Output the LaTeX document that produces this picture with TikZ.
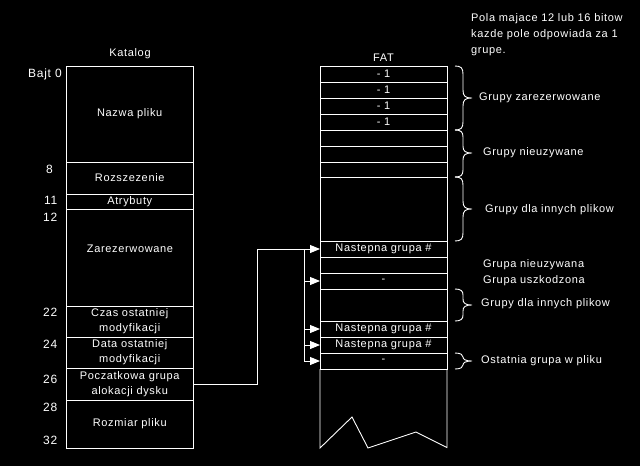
\documentclass[tikz,border=0pt]{standalone}
\usepackage{fontspec}
\setmainfont{Liberation Sans}[LetterSpace=6.0]
\usetikzlibrary{arrows.meta}
\newcommand\fatbrace[4]{%
  \draw[brc] (455,#1) .. controls (461,#1) and (463,{#1+2}) .. (463,{#1+#4})
    -- (463,{#3-#4}) .. controls (463,{#3-2}) and (465,#3) .. (472,#3)
    .. controls (465,#3) and (463,{#3+2}) .. (463,{#3+#4})
    -- (463,{#2-#4}) .. controls (463,{#2-2}) and (461,#2) .. (455,#2);}
\begin{document}
\begin{tikzpicture}[x=1pt,y=-1pt,
  every node/.style={text=white, font=\fontsize{11}{15}\selectfont},
  cell/.style={draw=white, line width=0.9pt, minimum width=126.5pt, inner sep=0pt, outer sep=0pt, anchor=north west, align=center},
  fcell/.style={cell, minimum width=127pt},
  lbl/.style={anchor=west, inner sep=0pt},
  num/.style={anchor=east, inner sep=0pt, font=\fontsize{12}{15}\selectfont},
  wire/.style={draw=white, line width=0.9pt},
  arr/.style={wire, -{Triangle[length=10pt,width=8pt]}},
  brc/.style={draw=white, line width=0.9pt},
]
\useasboundingbox (0,0) rectangle (640,466);
\fill[black] (0,0) rectangle (640,466);

% titles
\node (kat) at (130,54) {Katalog};
\node (fat) at (383.5,58) {FAT};
\node[anchor=north west, inner sep=0pt, align=left, font=\fontsize{11}{16}\selectfont] (note) at (471,13.5)
  {Pola majace 12 lub 16 bitow\\kazde pole odpowiada za 1\\grupe.};

% catalog
\node[cell, minimum height=96pt] (nazwa) at (66.5,66) {Nazwa pliku};
\node[cell, minimum height=32pt] (rozsz) at (66.5,162) {Rozszezenie};
\node[cell, minimum height=15pt] (atryb) at (66.5,194) {Atrybuty};
\node[cell, minimum height=97pt] (zarez) at (66.5,209) {};
\node (zarezt) at (130,249) {Zarezerwowane};
\node[cell, minimum height=31pt] (czas) at (66.5,306) {Czas ostatniej\\modyfikacji};
\node[cell, minimum height=31pt] (data) at (66.5,337) {Data ostatniej\\modyfikacji};
\node[cell, minimum height=32pt] (pocz) at (66.5,368) {Poczatkowa grupa\\alokacji dysku};
\node[cell, minimum height=48pt] (rozm) at (66.5,400) {Rozmiar pliku};

% byte offsets
\node[num] (b0) at (62,74) {Bajt 0};
\node[num] (n8) at (53,169) {8};
\node[num] (n11) at (57.5,200) {11};
\node[num] (n12) at (57.5,217) {12};
\node[num] (n22) at (57.5,312) {22};
\node[num] (n24) at (57.5,344) {24};
\node[num] (n26) at (57.5,379) {26};
\node[num] (n28) at (57.5,407) {28};
\node[num] (n32) at (57.5,440) {32};

% FAT
\node[fcell, minimum height=16pt] (f1) at (320,66) {- 1};
\node[fcell, minimum height=16pt] (f2) at (320,82) {- 1};
\node[fcell, minimum height=16pt] (f3) at (320,98) {- 1};
\node[fcell, minimum height=16pt] (f4) at (320,114) {- 1};
\node[fcell, minimum height=16pt] (f5) at (320,130) {};
\node[fcell, minimum height=16pt] (f6) at (320,146) {};
\node[fcell, minimum height=15pt] (f7) at (320,162) {};
\node[fcell, minimum height=64pt] (f8) at (320,177) {};
\node[fcell, minimum height=16pt] (f9) at (320,241) {Nastepna grupa \#};
\node[fcell, minimum height=16pt] (f10) at (320,257) {};
\node[fcell, minimum height=16pt] (f11) at (320,273) {-};
\node[fcell, minimum height=32pt] (f12) at (320,289) {};
\node[fcell, minimum height=16pt] (f13) at (320,321) {Nastepna grupa \#};
\node[fcell, minimum height=16pt] (f14) at (320,337) {Nastepna grupa \#};
\node[fcell, minimum height=16pt] (f15) at (320,353) {-};
\draw[wire] (f15.south west) -- (320,448) -- (352,417) -- (368,448) -- (416,432) -- (447,447.5) -- (f15.south east);

% connectors
\coordinate (bus) at (304,249);
\draw[arr] (pocz.east) -- ++(64,0) |- (f9.west);
\draw[wire] (f9.west -| bus) -- (f15.west -| bus);
\foreach \r in {f11,f13,f14,f15} \draw[arr] (\r.west -| bus) -- (\r.west);

% braces
\fatbrace{66}{130}{98}{8}
\fatbrace{130}{177}{153}{7}
\fatbrace{177}{241}{209}{8}
\fatbrace{289}{321}{305}{6}
\fatbrace{353}{369}{361}{4}

% brace labels
\node[lbl] (l1) at (479,98) {Grupy zarezerwowane};
\node[lbl] (l2) at (483,153) {Grupy nieuzywane};
\node[lbl] (l3) at (485,210) {Grupy dla innych plikow};
\node[lbl] (l4) at (483,265) {Grupa nieuzywana};
\node[lbl] (l5) at (483,281) {Grupa uszkodzona};
\node[lbl] (l6) at (481,304) {Grupy dla innych plikow};
\node[lbl] (l7) at (481,361) {Ostatnia grupa w pliku};
\end{tikzpicture}
\end{document}
